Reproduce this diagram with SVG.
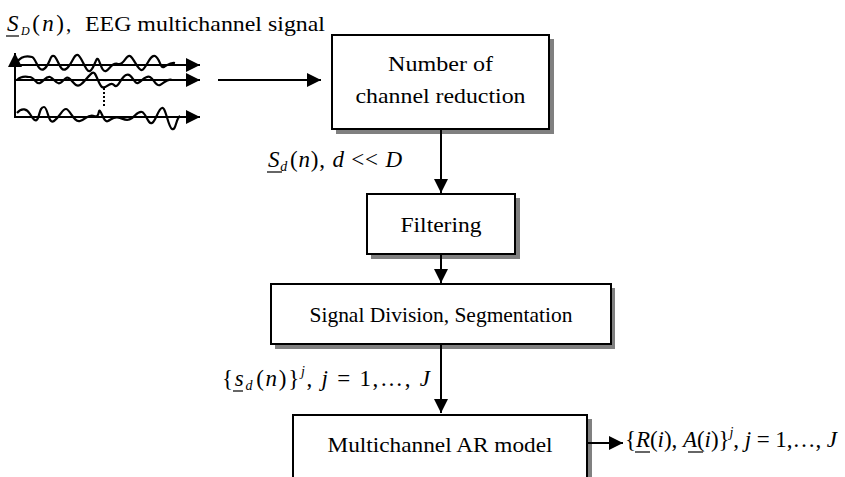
<svg xmlns="http://www.w3.org/2000/svg" width="845" height="477" viewBox="0 0 845 477">
  <style>
    .box { fill: #ffffff; stroke: #000000; stroke-width: 2; }
    .shadow { fill: #808080; stroke: none; }
    .label { font-family: "Liberation Serif", "Times New Roman", serif; font-size: 21px; fill: #000000; }
    .math { font-family: "Liberation Serif", "Times New Roman", serif; font-size: 23px; fill: #000000; }
    .it { font-style: italic; }
    .wire { fill: none; stroke: #000000; stroke-width: 2; }
    .wave { fill: none; stroke: #000000; stroke-width: 2.2; stroke-linejoin: round; }
    .ul { stroke: #000000; stroke-width: 1.2; }
  </style>
  <defs>
    <marker id="arrow" markerUnits="userSpaceOnUse" markerWidth="16" markerHeight="16" refX="14" refY="7" orient="auto">
      <path d="M0,0 L14,7 L0,14 Z" fill="#000000"/>
    </marker>
  </defs>

  <rect width="845" height="477" fill="#ffffff"/>

  <!-- multichannel input signal sketch -->
  <g id="input-signal">
    <line class="wire" x1="15" y1="118" x2="15" y2="53" marker-end="url(#arrow)"/>
    <line class="wire" x1="15" y1="65" x2="200" y2="65" marker-end="url(#arrow)"/>
    <line class="wire" x1="15" y1="80" x2="200" y2="80" marker-end="url(#arrow)"/>
    <line class="wire" x1="15" y1="117" x2="200" y2="117" marker-end="url(#arrow)"/>
    <path class="wave" d="M17,62 C22,55 28,56 32,57 S38,73 44,69 S50,54 54,56 S60,73 66,69 S74,53 78,55 S86,73 90,71 S96,57 98,59 S102,73 106,71 S112,62 118,64 S126,54 130,56 S138,71 142,70 S150,54 155,56 S160,69 164,67 S170,62 175,63"/>
    <path class="wave" d="M17,80 C22,75 26,77 30,77 S36,85 40,83 S46,76 50,77 S56,85 60,83 S66,75 70,79 S76,87 80,85 S88,76 92,73 S98,84 102,87 S110,80 114,85 S120,78 126,75 S134,85 138,83 S146,75 150,77 S156,87 160,85 S168,78 172,80"/>
    <path class="wave" d="M17,113 C22,107 27,109 30,114 S36,123 38,118 S40,107 44,107 S48,125 54,121 S62,109 66,109 S74,123 80,121 S88,114 94,116 S98,109 100,111 S104,123 108,121 S114,116 120,118 S128,121 132,118 S138,111 142,112 S148,125 152,123 S158,109 162,108 S168,127 172,129 S176,118 180,116"/>
    <line x1="104" y1="88" x2="104" y2="107" stroke="#000000" stroke-width="2" stroke-dasharray="2,2"/>
    <!-- caption: S_D(n), EEG multichannel signal -->
    <text class="math" x="7" y="31" font-size="22" textLength="57" lengthAdjust="spacing"><tspan class="it">S</tspan><tspan class="it" font-size="12" dy="4">D</tspan><tspan dy="-4">(</tspan><tspan class="it">n</tspan><tspan>)</tspan></text>
    <line class="ul" x1="6" y1="36" x2="19" y2="36"/>
    <text class="label" x="66" y="31" font-size="18">,</text>
    <text class="label" x="85" y="31" font-size="18" textLength="240" lengthAdjust="spacingAndGlyphs">EEG multichannel signal</text>
  </g>

  <g id="node-reduction">
    <rect class="shadow" x="336" y="39" width="218" height="95"/>
    <rect class="box" x="332" y="35" width="217" height="94"/>
    <text class="label" x="440.5" y="71" text-anchor="middle" textLength="105" lengthAdjust="spacingAndGlyphs">Number of</text>
    <text class="label" x="440.5" y="103" text-anchor="middle" textLength="170" lengthAdjust="spacingAndGlyphs">channel reduction</text>
  </g>

  <g id="node-filtering">
    <rect class="shadow" x="371" y="198" width="149" height="61"/>
    <rect class="box" x="367" y="194" width="148" height="60"/>
    <text class="label" x="441" y="232" text-anchor="middle" textLength="81" lengthAdjust="spacingAndGlyphs">Filtering</text>
  </g>

  <g id="node-segmentation">
    <rect class="shadow" x="275" y="288" width="340" height="61"/>
    <rect class="box" x="271" y="284" width="340" height="60"/>
    <text class="label" x="441" y="322" text-anchor="middle" textLength="263" lengthAdjust="spacingAndGlyphs">Signal Division, Segmentation</text>
  </g>

  <g id="node-ar-model">
    <rect class="shadow" x="297" y="419" width="295" height="80"/>
    <rect class="box" x="293" y="415" width="294" height="80"/>
    <text class="label" x="440" y="452" text-anchor="middle" textLength="225" lengthAdjust="spacingAndGlyphs">Multichannel AR model</text>
  </g>

  <g id="connectors">
    <line class="wire" x1="218" y1="80" x2="321" y2="80" marker-end="url(#arrow)"/>
    <line class="wire" x1="441" y1="129" x2="441" y2="193" marker-end="url(#arrow)"/>
    <line class="wire" x1="441" y1="254" x2="441" y2="283" marker-end="url(#arrow)"/>
    <line class="wire" x1="441" y1="344" x2="441" y2="413" marker-end="url(#arrow)"/>
    <line class="wire" x1="587" y1="443" x2="623" y2="443" marker-end="url(#arrow)"/>
  </g>

  <g id="edge-labels">
    <!-- S_d(n), d << D -->
    <text class="math" x="268" y="167" textLength="134" lengthAdjust="spacing"><tspan class="it">S</tspan><tspan class="it" font-size="14" dy="4">d</tspan><tspan dy="-4" dx="2">(</tspan><tspan class="it">n</tspan><tspan>), </tspan><tspan class="it">d</tspan><tspan> &lt;&lt; </tspan><tspan class="it">D</tspan></text>
    <line class="ul" x1="267" y1="172" x2="282" y2="172"/>

    <!-- {s_d(n)}^j, j = 1,...,J -->
    <text class="math" x="222" y="386" textLength="208" lengthAdjust="spacing"><tspan>{</tspan><tspan class="it">s</tspan><tspan class="it" font-size="14" dy="4">d</tspan><tspan dy="-4" dx="2">(</tspan><tspan class="it">n</tspan><tspan>)}</tspan><tspan class="it" font-size="14" dy="-10">j</tspan><tspan dy="10">, </tspan><tspan class="it">j</tspan><tspan> = 1,…, </tspan><tspan class="it">J</tspan></text>
    <line class="ul" x1="233" y1="391" x2="243" y2="391"/>

    <!-- {R(i), A(i)}^j, j = 1,...,J -->
    <text class="math" x="625" y="447" textLength="212" lengthAdjust="spacing"><tspan>{</tspan><tspan class="it">R</tspan><tspan>(</tspan><tspan class="it">i</tspan><tspan>), </tspan><tspan class="it">A</tspan><tspan>(</tspan><tspan class="it">i</tspan><tspan>)}</tspan><tspan class="it" font-size="14" dy="-10">j</tspan><tspan dy="10">, </tspan><tspan class="it">j</tspan><tspan> = 1,…, </tspan><tspan class="it">J</tspan></text>
    <line class="ul" x1="635" y1="452" x2="650" y2="452"/>
    <line class="ul" x1="688" y1="452" x2="703" y2="452"/>
  </g>
</svg>
